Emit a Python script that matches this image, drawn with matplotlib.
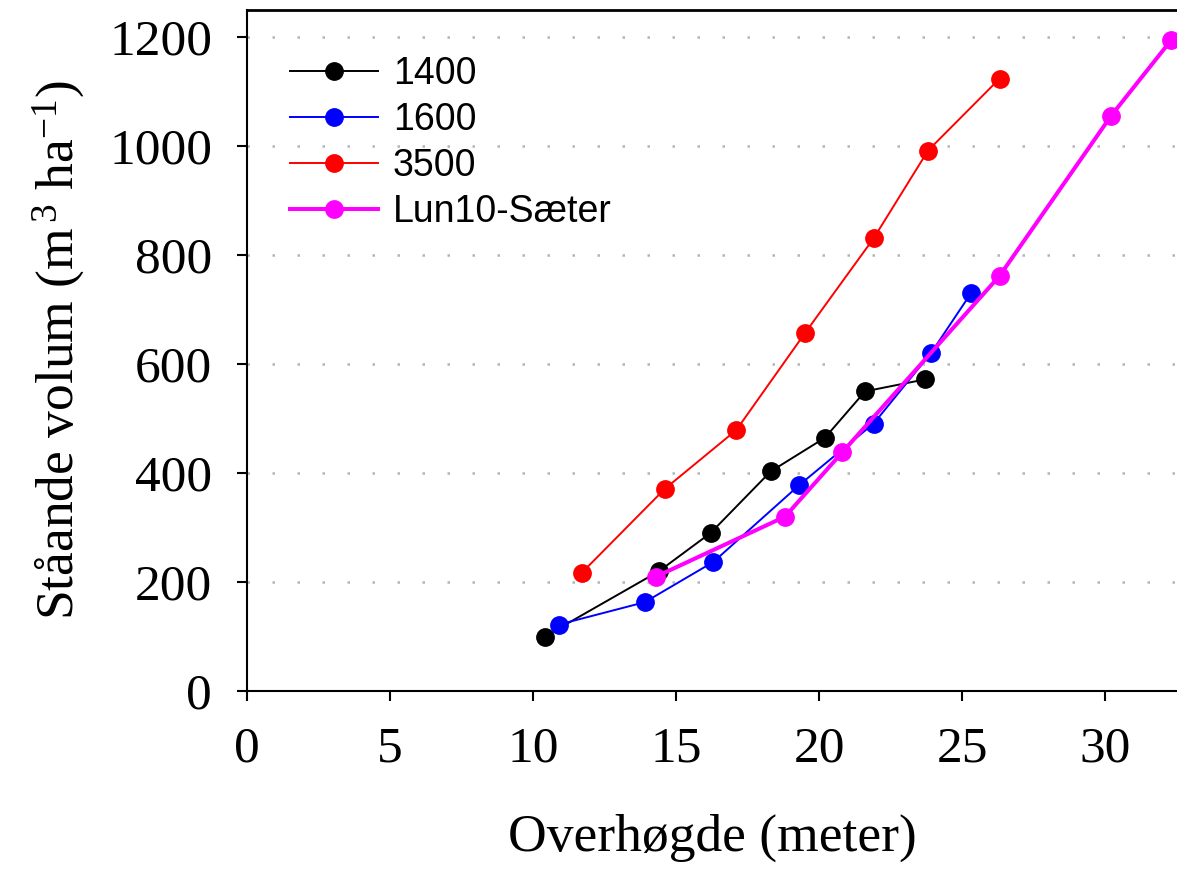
import numpy as np
import matplotlib
matplotlib.use('agg')
import matplotlib.pyplot as plt

plt.rcParams['font.family'] = ['Liberation Serif', 'DejaVu Serif']
plt.rcParams['mathtext.fontset'] = 'custom'
plt.rcParams['mathtext.rm'] = 'Liberation Serif'
plt.rcParams['mathtext.it'] = 'Liberation Serif:italic'

# data
x_1400 = [10.4, 14.4, 16.2, 18.3, 20.2, 21.6, 23.7]
y_1400 = [100, 220, 290, 403, 465, 550, 572]
x_1600 = [10.9, 13.9, 16.3, 19.3, 21.9, 23.9, 25.3]
y_1600 = [122, 163, 237, 378, 491, 620, 730]
x_3500 = [11.7, 14.6, 17.1, 19.5, 21.9, 23.8, 26.3]
y_3500 = [217, 371, 479, 657, 831, 992, 1124]
x_lun = [14.3, 18.8, 20.8, 26.3, 30.2, 32.3]
y_lun = [210, 320, 438, 762, 1056, 1195]

fig = plt.figure(figsize=(11.77, 8.69), dpi=100)
ax = fig.add_axes([247/1177, 178/869, 1 - 247/1177, 681/869])

ax.plot(x_1400, y_1400, color='black', lw=1.4, marker='o', ms=12.5, label='1400')
ax.plot(x_1600, y_1600, color='blue', lw=1.4, marker='o', ms=12.5, label='1600')
ax.plot(x_3500, y_3500, color='red', lw=1.4, marker='o', ms=12.5, label='3500')
ax.plot(x_lun, y_lun, color='magenta', lw=2.9, marker='o', ms=12.5, label='Lun10-Sæter')

ax.set_xlim(0, 32.5)
ax.set_ylim(0, 1250)
ax.set_xticks(np.arange(0, 31, 5))
ax.set_yticks(np.arange(0, 1201, 200))
ax.yaxis.grid(True, color='#b4b4b4', lw=1.8, linestyle=(0, (1, 9)))
ax.set_axisbelow(True)

ax.spines['right'].set_visible(False)
for s in ['left', 'bottom']:
    ax.spines[s].set_linewidth(1.5)
ax.spines['top'].set_linewidth(2.0)
ax.tick_params(direction='out', length=7.2, width=1.5, labelsize=37, pad=18)

ax.set_xlabel('Overhøgde (meter)', fontsize=38.5, labelpad=30)
ax.set_ylabel('Ståande volum (m$^{\\,3}$ ha$^{\\mathrm{-}1}$)', fontsize=38.5, labelpad=16)

leg = ax.legend(loc='upper left', bbox_to_anchor=(271/1177, 0.957),
                bbox_transform=fig.transFigure, frameon=False, borderpad=0,
                handlelength=2.35, handletextpad=0.4, labelspacing=0.27,
                prop={'family': 'Liberation Sans', 'size': 27})

fig.savefig('out.png', dpi=100)
